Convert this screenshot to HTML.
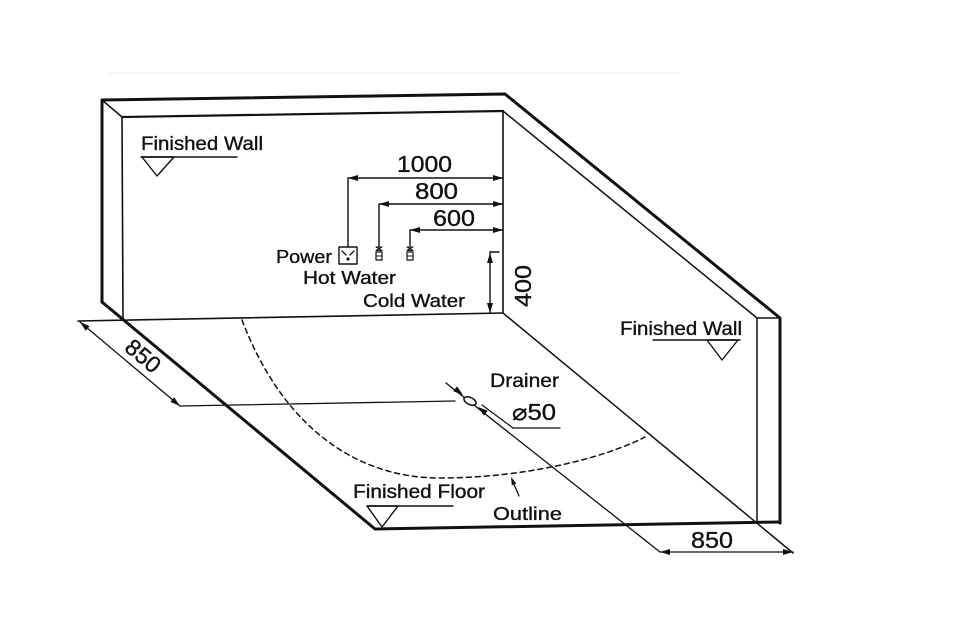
<!DOCTYPE html>
<html><head><meta charset="utf-8"><style>
html,body{margin:0;padding:0;background:#fff;}
svg{display:block;}
text{font-family:"Liberation Sans","DejaVu Sans",sans-serif;fill:#111;stroke:#111;stroke-width:0.35;}
</style></head><body>
<svg width="963" height="636" viewBox="0 0 963 636" xmlns="http://www.w3.org/2000/svg">
<rect width="963" height="636" fill="#fff"/>
<line x1="108" y1="73" x2="680" y2="73" stroke="#ececec" stroke-width="1"/>
<g stroke="#111" fill="none" stroke-linecap="round" stroke-linejoin="round">
  <polyline points="102,302 102,100 505,94 780,318 780,523" stroke-width="3"/>
  <polyline points="102,302 375,529 780,522" stroke-width="3"/>
  <line x1="122" y1="117" x2="503" y2="111" stroke-width="2.2"/>
  <line x1="102" y1="100" x2="122" y2="117" stroke-width="1.5"/>
  <line x1="122" y1="117" x2="123" y2="318" stroke-width="1.6"/>
  <line x1="503" y1="111" x2="503" y2="313" stroke-width="1.6"/>
  <line x1="78" y1="321" x2="503" y2="313" stroke-width="1.6"/>
  <line x1="503" y1="111" x2="757" y2="318" stroke-width="1.5"/>
  <line x1="757" y1="318" x2="780" y2="318" stroke-width="1.5"/>
  <line x1="757" y1="318" x2="757" y2="523" stroke-width="1.5"/>
  <line x1="503" y1="313" x2="793" y2="553" stroke-width="1.5"/>
  <line x1="80" y1="322" x2="180" y2="406" stroke-width="1.3"/>
  <line x1="180" y1="406" x2="455" y2="401" stroke-width="1.3"/>
  <line x1="446" y1="383" x2="660" y2="552" stroke-width="1.3"/>
  <line x1="482" y1="405" x2="513" y2="428" stroke-width="1.2"/>
  <line x1="513" y1="428" x2="560" y2="428" stroke-width="1.3"/>
  <ellipse cx="470" cy="401" rx="6.5" ry="3.5" transform="rotate(25 470 401)" stroke-width="1.5" fill="#fff"/>
  <line x1="660" y1="552" x2="793" y2="552" stroke-width="1.3"/>
  <path d="M242,320 C280,420 350,478 440,478 C520,478 600,460 645,437" stroke-width="1.5" stroke-dasharray="5,4"/>
  <line x1="519" y1="496" x2="513" y2="482" stroke-width="1.3"/>
  <polyline points="348,247 348,178 503,178" stroke-width="1.4"/>
  <polyline points="379,247 379,204 503,204" stroke-width="1.4"/>
  <polyline points="410,246 410,230 503,230" stroke-width="1.4"/>
  <polyline points="499,252 490,252 490,313" stroke-width="1.4"/>
  <line x1="141" y1="157" x2="237" y2="157" stroke-width="1.4"/>
  <polygon points="142,157 174,157 157,176" stroke-width="1.4"/>
  <line x1="653" y1="340" x2="740" y2="340" stroke-width="1.4"/>
  <polygon points="707,340 738,340 722,360" stroke-width="1.4"/>
  <line x1="367" y1="506" x2="453" y2="506" stroke-width="1.4"/>
  <polygon points="367,506 398,506 382,527" stroke-width="1.4"/>
  <rect x="339" y="247" width="18" height="17" stroke-width="1.4"/>
  <line x1="342" y1="251" x2="346" y2="255" stroke-width="1.3"/>
  <line x1="354" y1="251" x2="350" y2="255" stroke-width="1.3"/>
  <path d="M376,247 L382,247 L376,250.5 L382,250.5 Z" stroke-width="1.1"/>
  <rect x="376" y="252" width="6" height="8" stroke-width="1.2"/>
  <line x1="376" y1="256" x2="382" y2="256" stroke-width="1"/>
  <path d="M407,247 L413,247 L407,250.5 L413,250.5 Z" stroke-width="1.1"/>
  <rect x="407" y="252" width="6" height="8" stroke-width="1.2"/>
  <line x1="407" y1="256" x2="413" y2="256" stroke-width="1"/>
</g>
<circle cx="348" cy="259" r="1.6" fill="#111"/>
<g fill="#111" stroke="none">
  <polygon points="348,178 358,175 358,181"/>
  <polygon points="503,178 493,175 493,181"/>
  <polygon points="379,204 389,201 389,207"/>
  <polygon points="503,204 493,201 493,207"/>
  <polygon points="410,230 420,227 420,233"/>
  <polygon points="503,230 493,227 493,233"/>
  <polygon points="490,253 487,263 493,263"/>
  <polygon points="490,313 487,303 493,303"/>
  <polygon points="80,322 85.7,330.7 89.6,326.1"/>
  <polygon points="180,406 170.4,401.9 174.2,397.3"/>
  <polygon points="463,395 453.3,391.2 457,386.4"/>
  <polygon points="478,407 484,415.6 487.7,410.8"/>
  <polygon points="660,552 670,549 670,555"/>
  <polygon points="793,552 783,549 783,555"/>
  <polygon points="511,477 516.4,483.4 511.8,485.4"/>
</g>
<text x="141" y="150" font-size="19" textLength="122" lengthAdjust="spacingAndGlyphs">Finished Wall</text>
<text x="397" y="172" font-size="23" textLength="55" lengthAdjust="spacingAndGlyphs">1000</text>
<text x="415" y="199" font-size="23" textLength="43" lengthAdjust="spacingAndGlyphs">800</text>
<text x="433" y="226" font-size="23" textLength="42" lengthAdjust="spacingAndGlyphs">600</text>
<text x="276" y="263" font-size="18" textLength="56" lengthAdjust="spacingAndGlyphs">Power</text>
<text x="303" y="284" font-size="18" textLength="93" lengthAdjust="spacingAndGlyphs">Hot Water</text>
<text x="363" y="307" font-size="18" textLength="102" lengthAdjust="spacingAndGlyphs">Cold Water</text>
<text transform="translate(531,307) rotate(-90)" font-size="23" textLength="42" lengthAdjust="spacingAndGlyphs">400</text>
<text x="620" y="335" font-size="19" textLength="122" lengthAdjust="spacingAndGlyphs">Finished Wall</text>
<text x="490" y="387" font-size="19" textLength="69" lengthAdjust="spacingAndGlyphs">Drainer</text>
<text x="512" y="420" font-size="23" textLength="44" lengthAdjust="spacingAndGlyphs">⌀50</text>
<text transform="translate(138,362) rotate(40)" font-size="23" text-anchor="middle">850</text>
<text x="691" y="548" font-size="23" textLength="42" lengthAdjust="spacingAndGlyphs">850</text>
<text x="353" y="498" font-size="19" textLength="132" lengthAdjust="spacingAndGlyphs">Finished Floor</text>
<text x="493" y="520" font-size="18" textLength="69" lengthAdjust="spacingAndGlyphs">Outline</text>
</svg>
</body></html>
